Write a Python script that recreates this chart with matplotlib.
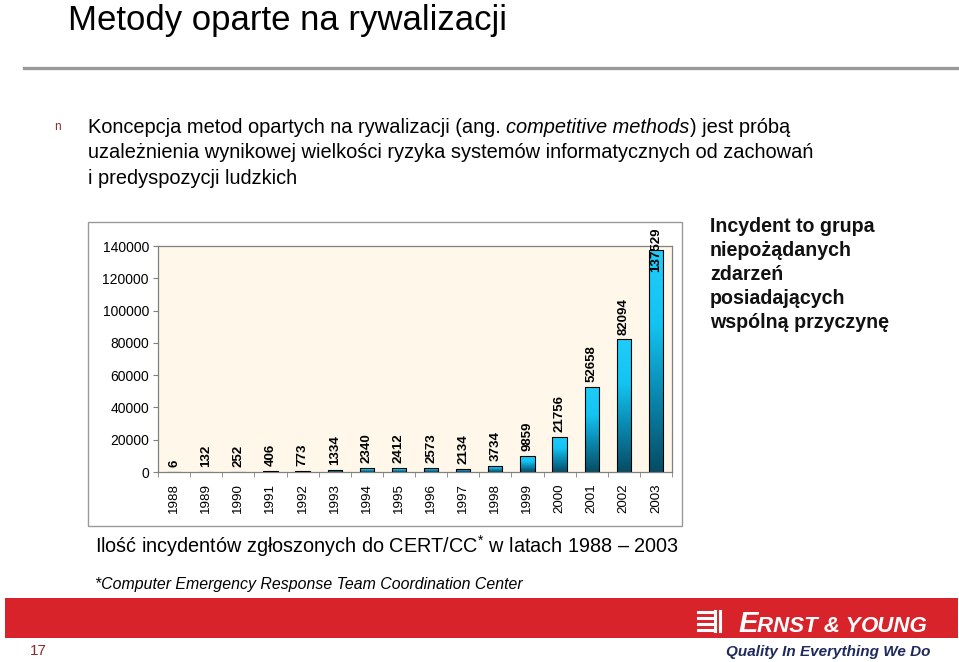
import numpy as np
import matplotlib.pyplot as plt
from matplotlib.colors import LinearSegmentedColormap
from matplotlib.patches import Rectangle
from matplotlib.lines import Line2D
import matplotlib.transforms as mtransforms

plt.rcParams['font.family'] = ['Liberation Sans', 'DejaVu Sans']
plt.rcParams['mathtext.fontset'] = 'custom'
plt.rcParams['mathtext.rm'] = 'Liberation Sans'

# Data
years = ['1988', '1989', '1990', '1991', '1992', '1993', '1994', '1995',
         '1996', '1997', '1998', '1999', '2000', '2001', '2002', '2003']
incidents = [6, 132, 252, 406, 773, 1334, 2340, 2412,
             2573, 2134, 3734, 9859, 21756, 52658, 82094, 137529]
y_ticks = [0, 20000, 40000, 60000, 80000, 100000, 120000, 140000]

W, H = 959, 662
fig = plt.figure(figsize=(W / 100, H / 100), dpi=100)
renderer = fig.canvas.get_renderer()


def fx(x):
    return x / W


def fy(y):
    return 1 - y / H


def run_text(x, y, parts, **kw):
    # draw consecutive text pieces on one line, each starting where the last ended
    for txt, extra in parts:
        t = fig.text(fx(x), fy(y), txt, va='baseline', ha='left', **kw, **extra)
        x = t.get_window_extent(renderer).x1
    return x


# Title and separator
fig.text(fx(68), fy(30), 'Metody oparte na rywalizacji', fontsize=25, va='baseline', ha='left')
fig.add_artist(Line2D([fx(24), fx(958)], [fy(68), fy(68)], color='#999999', lw=2.4))

# Bullet text
fig.text(fx(57), fy(127), 'n', fontsize=8.5, color='#8B2A2A', va='center', ha='center')
run_text(88, 133, [('Koncepcja metod opartych na rywalizacji (ang. ', {}),
                   ('competitive methods', {'style': 'italic'}),
                   (') jest próbą', {})], fontsize=14.4)
fig.text(fx(88), fy(158.5), 'uzależnienia wynikowej wielkości ryzyka systemów informatycznych od zachowań',
         fontsize=14.4, va='baseline', ha='left')
fig.text(fx(88), fy(184), 'i predyspozycji ludzkich', fontsize=14.4, va='baseline', ha='left')

# Chart frame
fig.add_artist(Rectangle((fx(88), fy(526)), fx(682) - fx(88), fy(222) - fy(526),
                         transform=fig.transFigure, fill=False, ec='#999999', lw=1))

ax = fig.add_axes([fx(158), fy(472), fx(672) - fx(158), fy(246) - fy(472)])
ax.set_facecolor('#FEF7EA')

x = np.arange(len(years))
bw = 0.44
cmap = LinearSegmentedColormap.from_list('bar', ['#064C63', '#0A86AD', '#12C4F2', '#20CCFA'])
grad = np.linspace(0, 1, 256).reshape(-1, 1)

bars = ax.bar(x, incidents, width=bw, facecolor='none', edgecolor='black', lw=0.8, zorder=3)
for b in bars:
    x0, w, h = b.get_x(), b.get_width(), b.get_height()
    im = ax.imshow(grad, extent=[x0, x0 + w, 0, h], origin='lower', aspect='auto',
                   cmap=cmap, zorder=2)
    im.set_clip_path(b)

top_tr = mtransforms.blended_transform_factory(ax.transData, ax.transAxes)
for i, v in enumerate(incidents):
    if v == max(incidents):
        ax.text(i, 1.08, str(v), transform=top_tr, rotation=90, ha='center', va='top',
                fontsize=9.5, fontweight='bold', zorder=4, clip_on=False)
    else:
        ax.annotate(str(v), (i, v), xytext=(0, 3.5), textcoords='offset points',
                    rotation=90, ha='center', va='bottom', fontsize=9.5, fontweight='bold')

ax.set_xlim(-0.5, len(years) - 0.5)
ax.set_ylim(0, 140000)
ax.set_yticks(y_ticks)
ax.set_yticklabels([str(t) for t in y_ticks])
ax.set_xticks(x)
ax.set_xticklabels(years, rotation=90, va='top')
ax.set_xticks(np.arange(-0.5, len(years)), minor=True)
ax.tick_params(axis='x', which='major', length=0, pad=8, labelsize=9.6)
ax.tick_params(axis='x', which='minor', length=3.5, color='#808080')
ax.tick_params(axis='y', length=3.5, color='#808080', pad=3, labelsize=10)
for s in ax.spines.values():
    s.set_color('#808080')
    s.set_linewidth(0.9)

# Side note
side = ['Incydent to grupa', 'niepożądanych', 'zdarzeń', 'posiadających', 'wspólną przyczynę']
for i, line in enumerate(side):
    fig.text(fx(710), fy(227 + 24 * i), line, fontsize=14.1, fontweight='bold',
             color='#111111', va='center', ha='left')

# Caption and footnote
fig.text(fx(95), fy(546), 'Ilość incydentów zgłoszonych do CERT/CC$^{*}$ w latach 1988 – 2003',
         fontsize=14.3, va='center', ha='left')
fig.text(fx(95), fy(585), '*Computer Emergency Response Team Coordination Center',
         fontsize=11.4, style='italic', va='center', ha='left')

# Footer band
fig.add_artist(Rectangle((fx(5), fy(638)), fx(958) - fx(5), fy(598) - fy(638),
                         transform=fig.transFigure, color='#D9232B', lw=0))
fig.text(fx(38), fy(651), '17', fontsize=11, color='#8B2A2A', va='center', ha='center')

# Logo
for k in range(4):
    yy = 612 + k * 6
    fig.add_artist(Line2D([fx(698), fx(712)], [fy(yy), fy(yy)], color='white', lw=2.2))
fig.add_artist(Line2D([fx(715), fx(715)], [fy(611), fy(631)], color='white', lw=2.2))
fig.add_artist(Line2D([fx(720), fx(720)], [fy(611), fy(631)], color='white', lw=2.2))
run_text(738, 632, [('E', {'fontsize': 21}), ('RNST & Y', {'fontsize': 16}),
                    ('OUNG', {'fontsize': 16})],
         fontweight='bold', style='italic', color='white')
fig.text(fx(930), fy(652), 'Quality In Everything We Do', fontsize=11, fontweight='bold',
         style='italic', color='#1F2A5C', va='center', ha='right')

fig.savefig('out.png', dpi=100)
